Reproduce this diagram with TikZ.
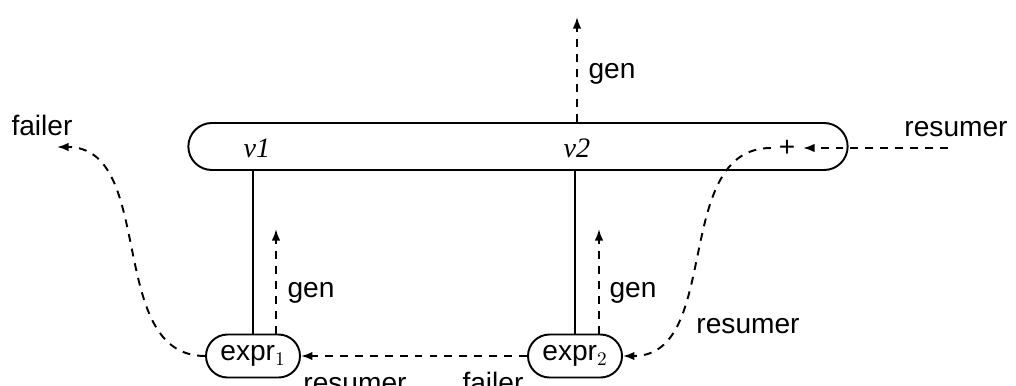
\documentclass[tikz,border=0pt]{standalone}
\usepackage{fontspec}
\setmainfont{Liberation Sans}
\newfontfamily\varfont{Liberation Serif}
\usetikzlibrary{arrows.meta,shapes.misc}

\begin{document}
\begin{tikzpicture}[x=1cm,y=1cm,every node/.style={font=\fontsize{16}{19}\selectfont},
  flow/.style={-{Latex[length=2.3mm,width=1.7mm]},line width=1.1pt,dash pattern=on 4.5pt off 4pt},
  exprbox/.style={draw,line width=1.1pt,rounded rectangle,minimum width=1.88cm,minimum height=0.86cm,inner sep=0pt},
  lbl/.style={anchor=base,inner sep=0pt}]
\useasboundingbox (0,0) rectangle (20.32,-7.70);
% the frame and its variables
\node[draw,line width=1.1pt,rounded rectangle,minimum width=13.42cm,minimum height=0.94cm] (bar) at (10.36,-2.93) {};
\node[lbl,font=\fontsize{16}{19}\varfont\itshape] (v1) at (5.14,-3.14) {v1};
\node[lbl,font=\fontsize{16}{19}\varfont\itshape] (v2) at (11.54,-3.14) {v2};
\node[inner sep=0.15cm] (plus) at (15.74,-2.96) {+};
% the two expressions
\node[exprbox] (expr1) at (5.06,-7.12) {expr$_1$};
\node[exprbox] (expr2) at (11.50,-7.12) {expr$_2$};
\draw[line width=1.1pt] (expr1.north) -- (expr1.north |- bar.south);
\draw[line width=1.1pt] (expr2.north) -- (expr2.north |- bar.south);
% free ends
\coordinate (gen1) at (5.52,-4.58);
\coordinate (gen2) at (11.98,-4.58);
\coordinate (gentop) at (11.54,-0.34);
\coordinate (failout) at (1.14,-2.94);
\coordinate (resin) at (18.96,-2.96);
% flows
\draw[flow] (expr1.north -| gen1) -- (gen1);
\draw[flow] (expr2.north -| gen2) -- (gen2);
\draw[flow] (bar.north -| gentop) -- (gentop);
\draw[flow] (expr2.west) -- (expr1.east);
\draw[flow] (expr1.west) to[out=180,in=0] (failout);
\draw[flow] (resin) -- (plus.east);
\draw[flow] (plus.west) to[out=180,in=0] (expr2.east);
% labels
\node[lbl] (lgen1) at (6.22,-5.94) {gen};
\node[lbl] (lgen2) at (12.66,-5.94) {gen};
\node[lbl] (lgentop) at (12.24,-1.56) {gen};
\node[lbl] (lfail) at (0.84,-2.70) {failer};
\node[lbl] (lres) at (19.12,-2.72) {resumer};
\node[lbl] (lres2) at (14.96,-6.66) {resumer};
\node[lbl] (lres1) at (7.10,-7.84) {resumer};
\node[lbl] (lfail2) at (9.86,-7.84) {failer};
\end{tikzpicture}
\end{document}
